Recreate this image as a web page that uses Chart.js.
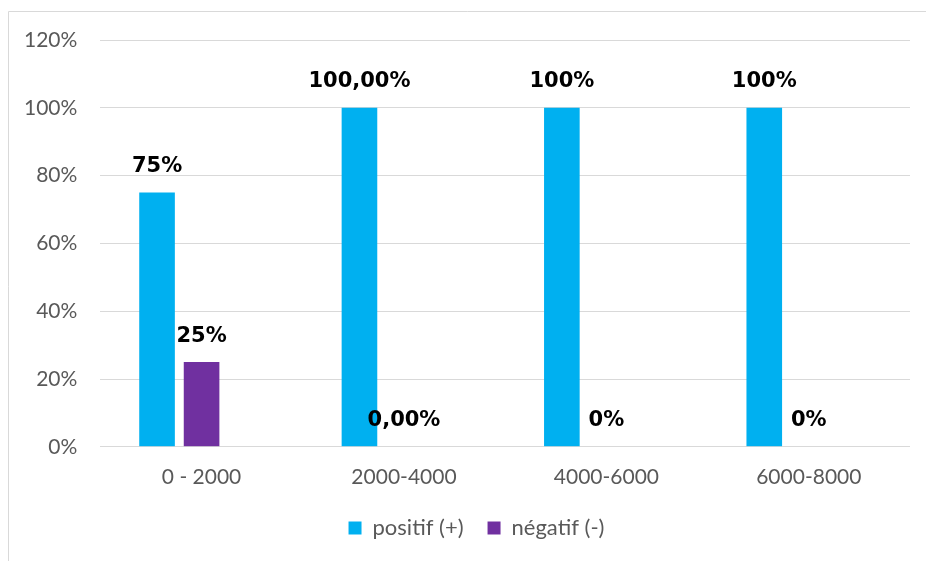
<!DOCTYPE html>
<html lang="fr">
<head>
    <meta charset="UTF-8">
    <title>Positif / négatif</title>
    <style>
        html, body { margin: 0; padding: 0; background: #fff; overflow: hidden; }
        #wrap { width: 926px; height: 561px; }
    </style>
</head>
<body>
    <div id="wrap">
        <canvas id="myChart" width="926" height="561"></canvas>
    </div>

    <script src="https://cdn.jsdelivr.net/npm/chart.js"></script>

    <script>
        // tranches et valeurs (en %)
        const tranches = ['0 - 2000', '2000-4000', '4000-6000', '6000-8000'];
        const positif = [75, 100, 100, 100];
        const negatif = [25, 0, 0, 0];
        const etiquettesPositif = ['75%', '100,00%', '100%', '100%'];
        const etiquettesNegatif = ['25%', '0,00%', '0%', '0%'];
        const yTicks = [0, 20, 40, 60, 80, 100, 120];

        const gris = '#d9d9d9';
        const texteGris = '#595959';
        const police = 'Lato, "Open Sans", sans-serif';

        // cadre du graphique (bords haut et gauche) + légende un peu décalée
        const cadre = {
            id: 'cadre',
            afterLayout(chart) {
                const lg = chart.legend;
                lg.left += 21;
                lg.right += 21;
                lg.top -= 7;
                lg.bottom -= 7;
            },
            beforeDraw(chart) {
                const c = chart.ctx;
                c.save();
                c.strokeStyle = gris;
                c.lineWidth = 1;
                c.beginPath();
                c.moveTo(8.5, chart.height);
                c.lineTo(8.5, 11.5);
                c.lineTo(chart.width, 11.5);
                c.stroke();
                c.restore();
            }
        };

        // valeurs au-dessus des barres
        const etiquettes = {
            id: 'etiquettes',
            afterDatasetsDraw(chart) {
                const c = chart.ctx;
                c.save();
                c.font = 'bold 21px "DejaVu Sans", Verdana, sans-serif';
                c.fillStyle = '#000';
                c.textAlign = 'center';
                c.textBaseline = 'middle';
                chart.data.datasets.forEach((ds, i) => {
                    if (!ds.etiquettes) return;
                    chart.getDatasetMeta(i).data.forEach((bar, j) => {
                        c.fillText(ds.etiquettes[j], bar.x, bar.y - 26);
                    });
                });
                c.restore();
            }
        };

        new Chart(document.getElementById('myChart'), {
            type: 'bar',
            data: {
                labels: tranches,
                datasets: [
                    {
                        label: 'positif (+)',
                        data: positif,
                        etiquettes: etiquettesPositif,
                        backgroundColor: '#00b0f0',
                        categoryPercentage: 0.66,
                        barPercentage: 0.8
                    },
                    {
                        label: 'négatif (-)',
                        data: negatif,
                        etiquettes: etiquettesNegatif,
                        backgroundColor: '#7030a0',
                        categoryPercentage: 0.66,
                        barPercentage: 0.8
                    },
                    {
                        // troisième série vide (garde la place dans chaque groupe)
                        label: '',
                        data: [null, null, null, null],
                        categoryPercentage: 0.66,
                        barPercentage: 0.8
                    }
                ]
            },
            options: {
                responsive: false,
                animation: false,
                layout: { padding: { top: 40, right: 16, left: 1, bottom: 5 } },
                plugins: {
                    tooltip: { enabled: false },
                    legend: {
                        position: 'bottom',
                        labels: {
                            filter: item => item.text !== '',
                            boxWidth: 13,
                            boxHeight: 13,
                            padding: 24,
                            color: texteGris,
                            font: { family: police, size: 22 }
                        }
                    }
                },
                scales: {
                    x: {
                        grid: { display: false },
                        border: { display: false },
                        ticks: {
                            color: texteGris,
                            padding: 10,
                            font: { family: police, size: 21 }
                        }
                    },
                    y: {
                        min: 0,
                        max: 120,
                        afterBuildTicks: axis => { axis.ticks = yTicks.map(v => ({ value: v })); },
                        grid: { color: gris, lineWidth: 1, drawTicks: false },
                        border: { display: false },
                        ticks: {
                            color: texteGris,
                            padding: 23,
                            callback: v => v + '%',
                            font: { family: police, size: 21 }
                        }
                    }
                }
            },
            plugins: [cadre, etiquettes]
        });
    </script>
</body>
</html>
